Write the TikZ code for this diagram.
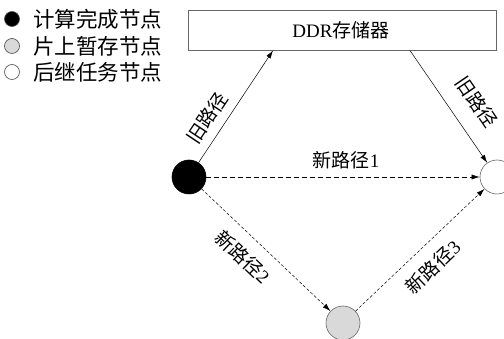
\documentclass[tikz,border=0pt]{standalone}
\usepackage{fontspec}
\setmainfont{Liberation Serif}
\newfontfamily\cjk{Noto Sans CJK SC}
\usetikzlibrary{arrows.meta}
\begin{document}
\begin{tikzpicture}[x=1pt,y=-1pt,
  lbl/.style={font=\fontsize{19}{19}\selectfont, inner sep=0pt},
  lgt/.style={anchor=west, inner sep=0pt, font=\fontsize{21.5}{21.5}\selectfont\cjk},
  nd/.style={circle, minimum size=34pt, inner sep=0pt, draw=black!60, line width=0.6pt},
  lg/.style={circle, minimum size=15pt, inner sep=0pt, draw=black!70, line width=0.6pt},
  conn/.style={line width=0.5pt, -{Latex[length=8pt,width=5pt]}},
  dl/.style={conn, dash pattern=on 5pt off 3pt},
  ds/.style={conn, dash pattern=on 3pt off 2pt}]
\useasboundingbox (0,0) rectangle (504,339);
% legend
\node[lg, fill=black] (l1) at (12,19) {};
\node[lg, fill=black!15] (l2) at (12,46) {};
\node[lg, fill=white] (l3) at (12,72) {};
\node[lgt] (t1) at (33,19) {计算完成节点};
\node[lgt] (t2) at (33,46) {片上暂存节点};
\node[lgt] (t3) at (33,72) {后继任务节点};
% DDR box
\node[draw=black!60, line width=0.6pt, minimum width=308pt, minimum height=40pt, inner sep=0pt] (ddr) at (342.5,30) {};
\node[lbl] (ddrt) at (341,30) {DDR{\cjk 存储器}};
% nodes
\node[nd, fill=black, draw=black] (c) at (189,177) {};
\node[nd, fill=black!15] (g) at (343,323) {};
\node[nd, fill=white] (w) at (497,177) {};
\coordinate (d1) at (273,50.5);
\coordinate (d2) at (410,50.5);
% connectors
\draw[conn] (c) -- (d1);
\draw[conn] (d2) -- (w);
\draw[dl] (c) -- (w);
\draw[ds] (c) -- (g);
\draw[ds] (g) -- (w);
% labels
\node[lbl, rotate=56.3] (o1) at (207,118) {\cjk 旧路径};
\node[lbl, rotate=-55.7] (o2) at (477,102) {\cjk 旧路径};
\node[lbl] (n1) at (346,160) {{\cjk 新路径}1};
\node[lbl, rotate=-43.5] (n2) at (243,257) {{\cjk 新路径}2};
\node[lbl, rotate=43.5] (n3) at (433,267) {{\cjk 新路径}3};
\end{tikzpicture}
\end{document}
